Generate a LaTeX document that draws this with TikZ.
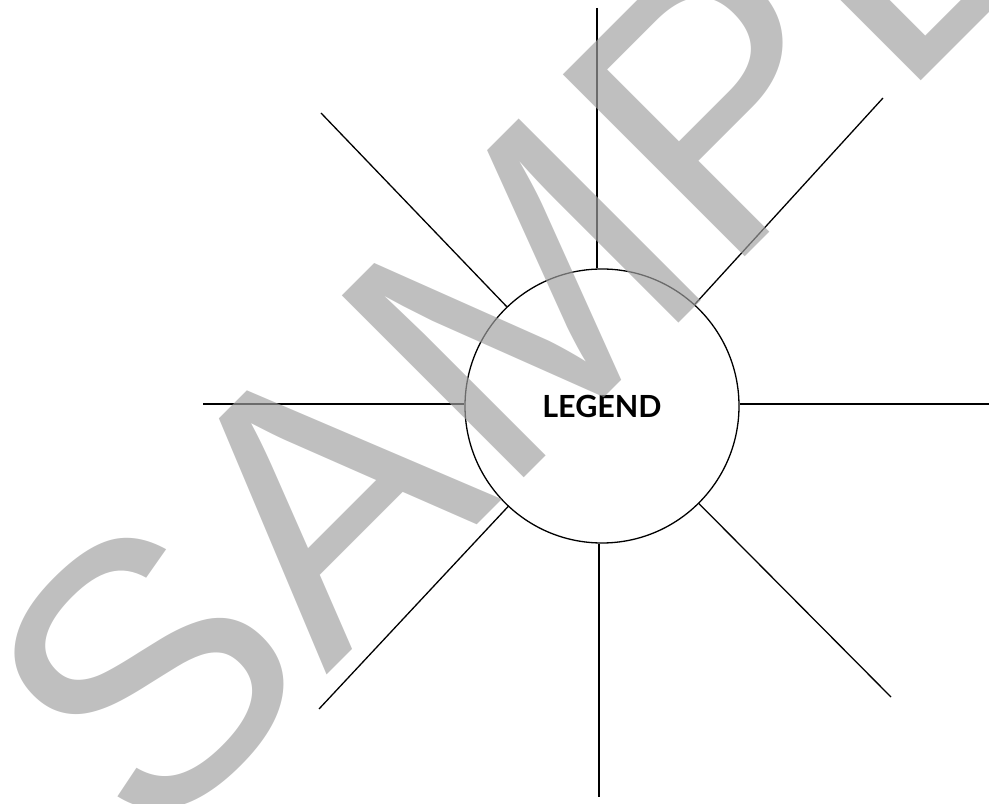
\documentclass[tikz,border=0pt]{standalone}
\usepackage{fontspec}
\newfontfamily\legendfont{Lato}
\newfontfamily\stampfont{Liberation Sans}
\usepackage{xcolor}
\definecolor{mygray}{RGB}{160,160,160}
\begin{document}
\begin{tikzpicture}[x=1pt,y=1pt,line width=1.3pt]
	\tikzstyle{hub}=[circle,draw,fill=white,minimum size=274pt,inner sep=0pt,font=\legendfont\bfseries\fontsize{30.5}{36}\selectfont];
	\tikzstyle{stamp}=[text=mygray,text opacity=0.67,rotate=45,anchor=base west,inner sep=0pt,font=\stampfont\fontsize{374}{400}\selectfont];
	\useasboundingbox (0,0) rectangle (989,804);
	\node[hub] (legend) at (602,398) {LEGEND};
	% free ends of the rays
	\coordinate (n)  at (597,796);
	\coordinate (s)  at (599,7);
	\coordinate (w)  at (203,400);
	\coordinate (e)  at (989,400);
	\coordinate (nw) at (321,691);
	\coordinate (ne) at (883,706);
	\coordinate (sw) at (319,95);
	\coordinate (se) at (891,107);
	\draw (n) -- (n |- legend.north);
	\draw (s) -- (s |- legend.south);
	\draw (w) -- (w -| legend.west);
	\draw (e) -- (e -| legend.east);
	\draw (nw) -- (legend);
	\draw (ne) -- (legend);
	\draw (sw) -- (legend);
	\draw (se) -- (legend);
	\begin{scope}
		\clip (0,0) rectangle (989,804);
		\node[stamp] (sample) at (149.5,-48.5) {SAMPLE};
	\end{scope}
\end{tikzpicture}
\end{document}
